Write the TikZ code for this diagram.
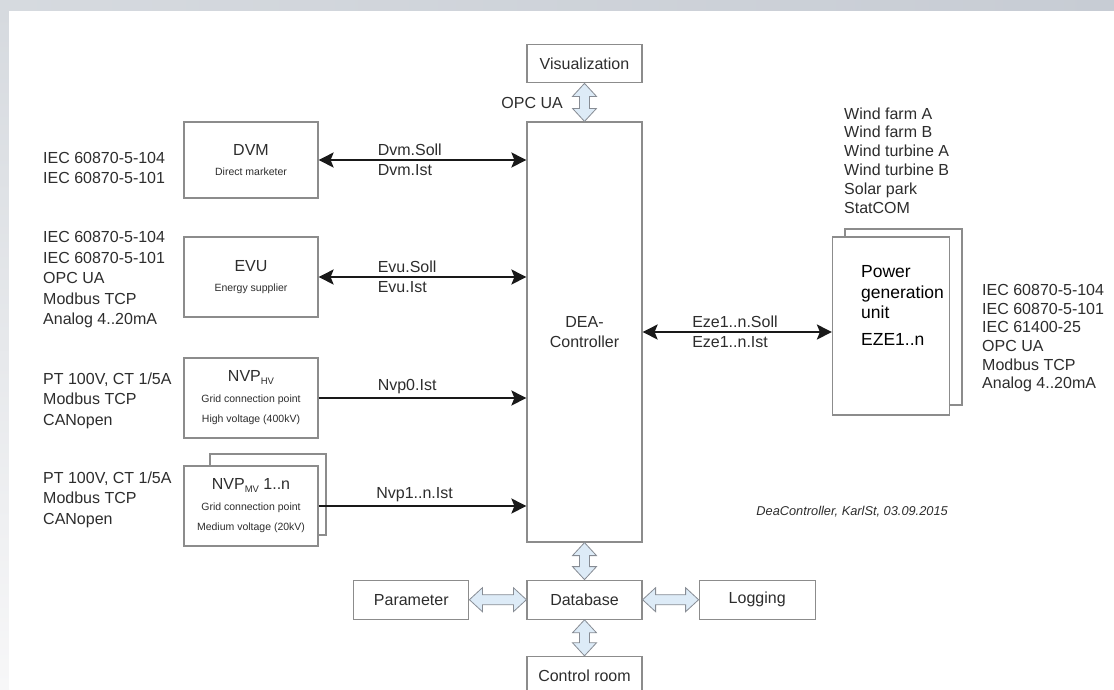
\documentclass[tikz,border=0pt]{standalone}
\usepackage{fontspec}
\setmainfont{Liberation Sans}
\usetikzlibrary{arrows.meta,positioning,calc}

\definecolor{frametop}{RGB}{214,218,223}
\definecolor{frameright}{RGB}{199,204,212}
\definecolor{framebot}{RGB}{247,247,248}
\definecolor{boxline}{RGB}{140,140,140}
\definecolor{flowfill}{RGB}{221,235,247}
\definecolor{flowline}{RGB}{135,140,148}
\definecolor{txtgray}{RGB}{45,45,45}

\newcommand{\bigtxt}{\fontsize{16}{20.5}\selectfont}
\newcommand{\smalltxt}{\fontsize{10.5}{21}\selectfont}
\newcommand{\lowidx}[1]{\raisebox{-2.5pt}{\fontsize{9.5}{10}\selectfont #1}}

\begin{document}
\begin{tikzpicture}[
    x=1pt, y=-1pt,
    font=\bigtxt, text=txtgray,
    block/.style={draw=boxline, line width=1.2pt, fill=white, align=center, inner sep=2pt},
    small/.style={block, minimum width=115pt, minimum height=38pt},
    proto/.style={align=left, anchor=north west, inner sep=0pt},
    lbl/.style={inner xsep=0pt, inner ysep=3pt},
    arrow/.style={line width=2pt, draw=black!90, ->, >={Stealth[length=15pt,width=15pt,inset=3pt]}},
    dataflow/.style={draw=flowline, fill=flowfill, line width=0.8pt,
      to path={
        -- ($(\tikztostart)!13pt!(\tikztotarget)!12pt!90:(\tikztotarget)$)
        -- ($(\tikztostart)!13pt!(\tikztotarget)!5pt!90:(\tikztotarget)$)
        -- ($(\tikztotarget)!13pt!(\tikztostart)!5pt!90:(\tikztotarget)$)
        -- ($(\tikztotarget)!13pt!(\tikztostart)!12pt!90:(\tikztotarget)$)
        -- (\tikztotarget)
        -- ($(\tikztotarget)!13pt!(\tikztostart)!12pt!-90:(\tikztotarget)$)
        -- ($(\tikztotarget)!13pt!(\tikztostart)!5pt!-90:(\tikztotarget)$)
        -- ($(\tikztostart)!13pt!(\tikztotarget)!5pt!-90:(\tikztotarget)$)
        -- ($(\tikztostart)!13pt!(\tikztotarget)!12pt!-90:(\tikztotarget)$)
        -- cycle}}
]
    \useasboundingbox (0,0) rectangle (1114,689);
    \clip (0,0) rectangle (1114,689);
    \shade [left color=frametop, right color=frameright] (0,0) rectangle (1114,11);
    \shade [top color=frametop, bottom color=framebot] (0,11) rectangle (9,689);
    \fill [white] (9,11) rectangle (1114,689);

    % controller and database row
    \node (ctrl) [block, minimum width=115pt, minimum height=420pt] at (584.5,332) {DEA-\\Controller};
    \node (vis) [small, above=38pt of ctrl] {Visualization};
    \node (db) [small, minimum height=39pt, below=37pt of ctrl] {Database};
    \node (par) [small, minimum height=39pt, left=57pt of db] {Parameter};
    \node (log) [small, minimum width=116pt, minimum height=39pt, right=56pt of db] {Logging};
    \node (room) [small, below=36pt of db] {Control room};
    \node (opcua) [anchor=east, inner sep=0pt] at (563,103) {OPC UA};

    % left side
    \node (dvm) [block, minimum width=134pt, minimum height=76pt] at (251,160) {DVM\\\smalltxt Direct marketer};
    \node (evu) [block, minimum width=134pt, minimum height=80pt] at (251,277) {EVU\\\smalltxt Energy supplier};
    \node (nvphv) [block, minimum width=134pt, minimum height=80pt] at (251,398)
        {NVP\lowidx{HV}\\\smalltxt Grid connection point\\\smalltxt High voltage (400kV)};
    \node (mvback) [block, minimum width=116pt, minimum height=81pt] at (268,494.5) {};
    \node (nvpmv) [block, minimum width=134pt, minimum height=80pt] at (251,506)
        {NVP\lowidx{MV} 1..n\\\smalltxt Grid connection point\\\smalltxt Medium voltage (20kV)};

    \node (dvmproto) [proto] at (43,152) {IEC 60870-5-104\\IEC 60870-5-101};
    \node (evuproto) [proto] at (43,231.3) {IEC 60870-5-104\\IEC 60870-5-101\\OPC UA\\Modbus TCP\\Analog 4..20mA};
    \node (hvproto) [proto] at (43,372.3) {PT 100V, CT 1/5A\\Modbus TCP\\CANopen};
    \node (mvproto) [proto] at (43,471.3) {PT 100V, CT 1/5A\\Modbus TCP\\CANopen};

    % right side
    \node (ezeback) [block, minimum width=117pt, minimum height=176pt] at (903.5,317) {};
    \node (eze) [block, minimum width=117pt, minimum height=178pt] at (891,326) {};
    \node (ezetxt) [proto, text=black, font=\fontsize{17.5}{20.5}\selectfont] at (861,265.7)
        {Power\\generation\\unit\\[6pt]EZE1..n};
    \node (ezekinds) [proto, font=\fontsize{16}{18.8}\selectfont] at (844,107.3)
        {Wind farm A\\Wind farm B\\Wind turbine A\\Wind turbine B\\Solar park\\StatCOM};
    \node (ezeproto) [proto, font=\fontsize{16}{18.6}\selectfont] at (982,284.3)
        {IEC 60870-5-104\\IEC 60870-5-101\\IEC 61400-25\\OPC UA\\Modbus TCP\\Analog 4..20mA};

    \node (note) [anchor=east, inner sep=0pt, font=\fontsize{12.8}{15}\selectfont\itshape] at (948,512)
        {DeaController, KarlSt, 03.09.2015};

    % signals
    \draw [arrow, <->] (dvm.east) -- (dvm.east -| ctrl.west)
        node (dvmsoll) [lbl, pos=0.28, anchor=south west] {Dvm.Soll}
        node (dvmist) [lbl, pos=0.28, anchor=north west] {Dvm.Ist};
    \draw [arrow, <->] (evu.east) -- (evu.east -| ctrl.west)
        node (evusoll) [lbl, pos=0.28, anchor=south west] {Evu.Soll}
        node (evuist) [lbl, pos=0.28, anchor=north west] {Evu.Ist};
    \draw [arrow] (nvphv.east) -- (nvphv.east -| ctrl.west)
        node (nvp0) [lbl, pos=0.28, anchor=south west] {Nvp0.Ist};
    \draw [arrow] (nvpmv.east) -- (nvpmv.east -| ctrl.west)
        node (nvp1) [lbl, pos=0.273, anchor=south west] {Nvp1..n.Ist};
    \draw [arrow, <->] (ctrl.east) -- (ctrl.east -| eze.west)
        node (ezesoll) [lbl, pos=0.257, anchor=south west] {Eze1..n.Soll}
        node (ezeist) [lbl, pos=0.257, anchor=north west] {Eze1..n.Ist};

    % data exchange
    \draw [dataflow] (vis.south) to (ctrl.north);
    \draw [dataflow] (ctrl.south) to (db.north);
    \draw [dataflow] (par.east) to (db.west);
    \draw [dataflow] (db.east) to (log.west);
    \draw [dataflow] (db.south) to (room.north);
\end{tikzpicture}
\end{document}
